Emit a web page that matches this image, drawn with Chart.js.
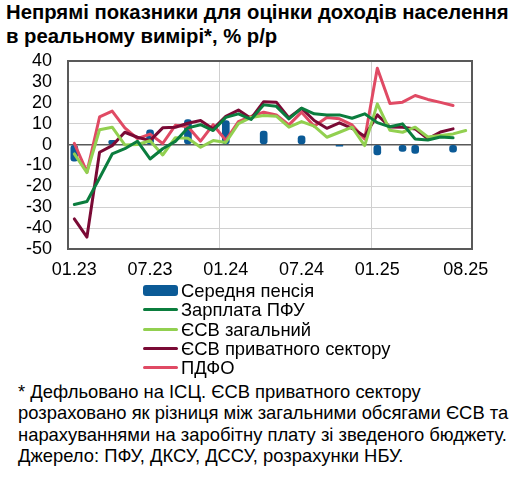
<!DOCTYPE html>
<html>
<head>
<meta charset="utf-8">
<script src="https://cdn.jsdelivr.net/npm/chart.js@4"></script>
<style>
  html, body { margin:0; padding:0; background:#fff; }
  body { width:522px; height:480px; position:relative; overflow:hidden; font-family:"Liberation Sans", Arial, sans-serif; color:#000; }
  #title { position:absolute; left:6px; top:0px; font-weight:bold; font-size:20.3px; line-height:24px; white-space:nowrap; }
  #wrap { position:absolute; left:0; top:0; width:522px; height:290px; }
  #legend { position:absolute; left:143px; top:281px; font-size:18.4px; }
  .lrow { height:19.3px; line-height:19.3px; display:flex; align-items:center; white-space:nowrap; }
  .mk { width:35px; margin-right:3px; display:inline-block; }
  #note { position:absolute; left:18px; top:381px; font-size:18.4px; line-height:21.3px; white-space:nowrap; }
</style>
</head>
<body>
<div id="title">Непрямі показники для оцінки доходів населення<br>в реальному вимірі*, % р/р</div>
<div id="wrap"><canvas id="c" width="522" height="290"></canvas></div>
<div id="legend"></div>
<div id="note">* Дефльовано на ІСЦ. ЄСВ приватного сектору<br>розраховано як різниця між загальними обсягами ЄСВ та<br>нарахуваннями на заробітну плату зі зведеного бюджету.<br>Джерело: ПФУ, ДКСУ, ДССУ, розрахунки НБУ.</div>
<script>
// Categories (months 01.23 .. 08.25)
const months = ['01.23','02.23','03.23','04.23','05.23','06.23','07.23','08.23','09.23','10.23','11.23','12.23',
                '01.24','02.24','03.24','04.24','05.24','06.24','07.24','08.24','09.24','10.24','11.24','12.24',
                '01.25','02.25','03.25','04.25','05.25','06.25','07.25','08.25'];
const shownTicks = ['01.23','07.23','01.24','07.24','01.25','08.25'];
const yTicks = [40,30,20,10,0,-10,-20,-30,-40,-50];

// Series
const pension = [-8,null,null,2,null,null,7,null,null,12,null,null,
                 11.5,null,null,6.5,null,null,4.2,null,null,-0.8,null,null,
                 -5,null,-3.3,-4.3,null,null,-3.7,null];
const wagePFU = [-28.7,-27.3,-16,-4.5,-2,1.6,-6.9,-2,1.5,8,9.5,6.7,
                 13,14.7,12,19,18.3,12.3,17.4,14.7,14.2,14.2,12.6,14.7,
                 10.5,8.5,9.9,2.7,2.2,3.6,3.2,null];
const esvTotal = [-4.5,-13.4,7.1,8.3,-0.2,0,1.8,-5,3.3,3,-1.3,1.9,
                  1,10,13,13.9,13.6,8.3,11,8.8,3.5,5.9,8.3,-0.5,
                  19.5,6.8,5.9,8.3,3.6,4.3,5.1,6.7];
const esvPrivate = [-35.6,-44.3,-3.7,-0.5,5.9,3.5,1.9,8,8.3,10.2,11.5,7.5,
                    13.5,16.5,12.5,20.5,20.3,12.8,17.4,11.5,7.8,10.4,7.8,4,
                    14.2,8.4,8.3,7.5,2.7,6,7.5,null];
const pdfo = [0.6,-13.2,13.2,16,8,2.8,5,0.5,9.2,8.5,1.6,9.5,
              2,11,13.5,15.5,14.2,9.4,15.5,8.8,13,12.3,9.4,2.7,
              36.5,19.7,20.3,23.5,21.6,20.2,18.7,null];

const seriesLabels = ['Середня пенсія','Зарплата ПФУ','ЄСВ загальний','ЄСВ приватного сектору','ПДФО'];
const seriesColors = ['#0b5a96','#0b7d3e','#92d050','#7a0a35','#e04a64'];

const frame = {
  id:'frame',
  afterDraw(chart){
    const a = chart.chartArea, c = chart.ctx;
    c.save(); c.strokeStyle = '#595959'; c.lineWidth = 2;
    c.strokeRect(a.left, a.top, a.right - a.left, a.bottom - a.top);
    c.restore();
  }
};

const lineDs = (i, data) => ({
  type:'line', label: seriesLabels[i], data, borderColor: seriesColors[i], backgroundColor: seriesColors[i],
  borderWidth: 3, pointRadius: 0, tension: 0, spanGaps: false, order: 1, borderCapStyle:'round', borderJoinStyle:'round'
});

new Chart(document.getElementById('c'), {
  data: {
    labels: months,
    datasets: [
      { type:'bar', label: seriesLabels[0], data: pension, backgroundColor: seriesColors[0],
        barThickness: 7, borderRadius: 3, borderSkipped: false, order: 2 },
      lineDs(1, wagePFU),
      lineDs(2, esvTotal),
      lineDs(3, esvPrivate),
      lineDs(4, pdfo)
    ]
  },
  options: {
    responsive: false,
    animation: false,
    events: [],
    layout: { padding: { left: 0, top: 61, right: 50, bottom: 0 } },
    plugins: { legend: { display: false }, tooltip: { enabled: false } },
    scales: {
      x: {
        offset: true,
        grid: { offset: true, drawTicks: false,
          color: ctx => (ctx.index === 12 || ctx.index === 24) ? '#cfcfcf' : 'rgba(0,0,0,0)', lineWidth: 1 },
        border: { display: true, color: '#595959', width: 2 },
        ticks: { autoSkip: false, maxRotation: 0, minRotation: 0, padding: 10, color: '#000',
          font: { family: '"Liberation Sans", Arial', size: 18 },
          callback: function(v, i) { const l = months[i]; return shownTicks.includes(l) ? l : ''; } },
        afterFit: s => { s.height = 41; }
      },
      y: {
        min: -50, max: 40,
        afterBuildTicks: s => { s.ticks = yTicks.map(v => ({ value: v })); },
        grid: { drawTicks: false,
          color: ctx => ctx.tick && ctx.tick.value === 0 ? '#595959' : '#d0d0d0',
          lineWidth: ctx => ctx.tick && ctx.tick.value === 0 ? 1.5 : 1 },
        border: { display: true, color: '#595959', width: 2 },
        ticks: { autoSkip: false, padding: 16, color: '#000', font: { family: '"Liberation Sans", Arial', size: 18, lineHeight: 1 } },
        afterFit: s => { s.width = 68; }
      }
    }
  },
  plugins: [frame]
});

// HTML legend built from series labels/colors
const leg = document.getElementById('legend');
seriesLabels.forEach((lab, i) => {
  const row = document.createElement('div'); row.className = 'lrow';
  const mk = document.createElement('span'); mk.className = 'mk';
  if (i === 0) { mk.style.height = '11px'; mk.style.borderRadius = '3px'; }
  else { mk.style.height = '3px'; mk.style.borderRadius = '2px'; }
  mk.style.background = seriesColors[i];
  const tx = document.createElement('span'); tx.textContent = lab;
  row.appendChild(mk); row.appendChild(tx); leg.appendChild(row);
});
</script>
</body>
</html>
